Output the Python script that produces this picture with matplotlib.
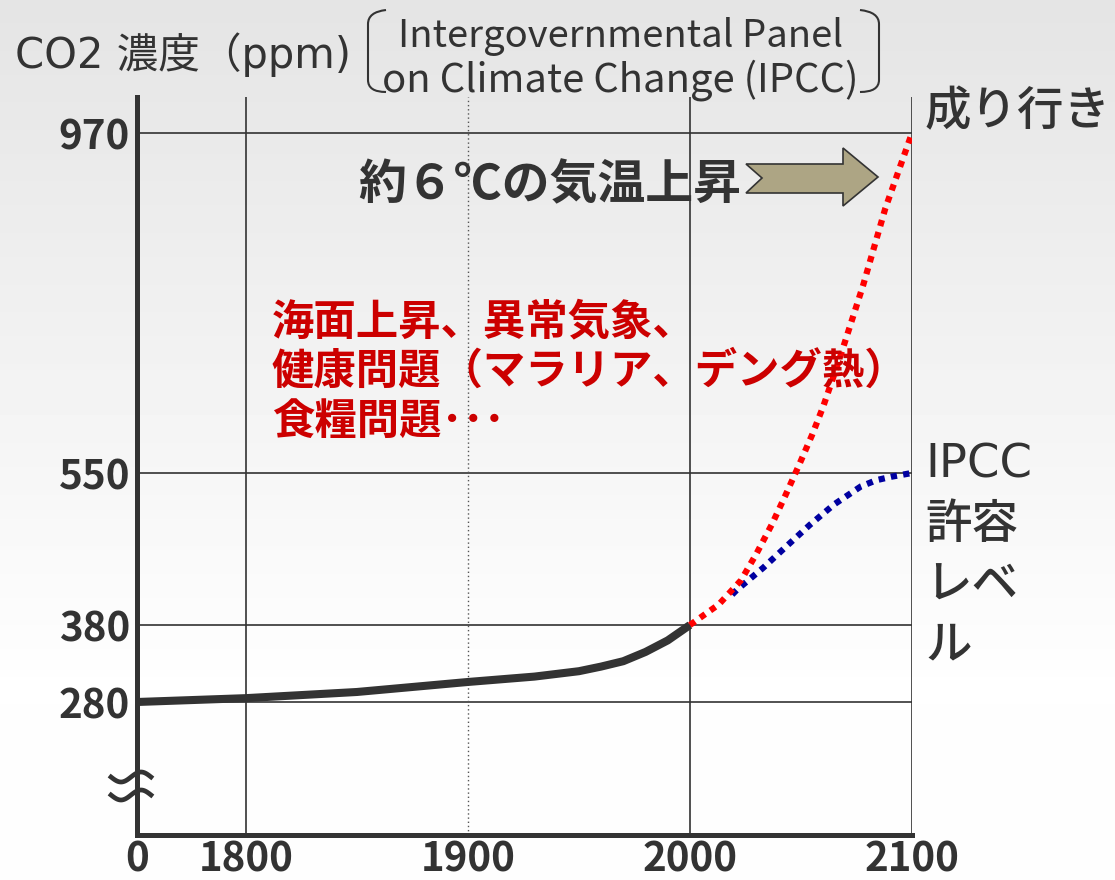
import numpy as np
import matplotlib
matplotlib.use('Agg')
from matplotlib import pyplot as plt
from matplotlib.patches import Polygon
from matplotlib.path import Path
from matplotlib.patches import PathPatch

plt.rcParams['font.family'] = ['Noto Sans CJK JP', 'DejaVu Sans']
WIDE = ['DejaVu Sans', 'Noto Sans CJK JP']

# --- data ---
hist_year = [1751, 1800, 1850, 1900, 1930, 1950, 1960, 1970, 1980, 1990, 2000]
hist_ppm = [280, 285, 293, 306, 313, 320, 326, 333, 345, 360, 380]

bau_year = [2000, 2013, 2023, 2030, 2037, 2043, 2049, 2055, 2060, 2067, 2078, 2088, 2100]
bau_ppm = [380, 403, 430, 460, 493, 525, 559, 597, 632, 688, 782, 877, 970]

ipcc_year = [2019, 2021, 2033, 2043, 2054, 2065, 2077, 2084, 2091, 2100]
ipcc_ppm = [414, 419, 444, 467, 492, 515, 535, 542, 546, 550]

y_ticks = [280, 380, 550, 970]
x_ticks = [1751, 1800, 1900, 2000, 2100]
x_labels = ['0', '1800', '1900', '2000', '2100']

red_lines = ['海面上昇、異常気象、', '健康問題（マラリア、デング熱）', '食糧問題･･･']
ipcc_label = ['IPCC', '許容', 'レベ', 'ル']

W, H = 1115, 880
DARK = '#333333'


def px(x, y):
    # pixel position (top-left origin) -> figure fraction
    return x / W, 1 - y / H


# broken, uneven y axis: ppm -> height on the page
yv = [107, 280, 380, 550, 970, 1014]
yh = [45, 178, 255, 407, 747, 783]


def fwd(v):
    return np.interp(v, yv, yh)


def inv(h):
    return np.interp(h, yh, yv)


fig = plt.figure(figsize=(W / 100, H / 100), dpi=100)

# background gradient
bg = fig.add_axes([0, 0, 1, 1], zorder=-10)
g = np.linspace(0, 1, 256)
shade = np.clip(0.895 + 0.105 * g / 0.8, 0, 1)
shade = np.where(g > 0.8, 0.995, shade)
bg.imshow(np.repeat(shade[:, None], 2, axis=1), cmap='gray', vmin=0, vmax=1,
          aspect='auto', extent=[0, 1, 0, 1])
bg.axis('off')

l, b = px(137, 835)
r, t = px(912, 97)
ax = fig.add_axes([l, b, r - l, t - b])
ax.set_facecolor('none')
ax.set_yscale('function', functions=(fwd, inv))
ax.set_xlim(1751, 2100)
ax.set_ylim(107, 1014)

for v in y_ticks:
    ax.axhline(v, color=DARK, lw=1.2, zorder=1)
for v in [1800, 2000, 2100]:
    ax.axvline(v, color=DARK, lw=1.2, zorder=1)
ax.axvline(1900, color='#555555', lw=1.0, ls=(0, (1, 2)), zorder=1)

ax.plot(hist_year, hist_ppm, color=DARK, lw=5.8, solid_capstyle='butt',
        solid_joinstyle='round', zorder=3)
ax.plot(ipcc_year, ipcc_ppm, color='#0000A0', lw=4.5, ls=(0, (1, 1)),
        dash_capstyle='butt', zorder=4)
ax.plot(bau_year, bau_ppm, color='#FF0000', lw=4.5, ls=(0, (1, 1)),
        dash_capstyle='butt', zorder=5)

ax.set_yticks(y_ticks)
ax.set_yticklabels([str(v) for v in y_ticks])
ax.set_xticks(x_ticks)
ax.set_xticklabels(x_labels)
ax.minorticks_off()
ax.tick_params(length=0, labelsize=29, labelcolor=DARK, pad=5)
ax.tick_params(axis='x', pad=3)
for lab in ax.get_xticklabels() + ax.get_yticklabels():
    lab.set_fontweight('bold')

for s in ['top', 'right']:
    ax.spines[s].set_visible(False)
for s in ['left', 'bottom']:
    ax.spines[s].set_linewidth(3.6)
    ax.spines[s].set_color(DARK)

# squiggle on the broken y axis
sx = np.linspace(111, 151, 40)
for y0 in [777, 795]:
    sy = y0 + 5 * np.sin((sx - 111) / 40 * 2 * np.pi)
    fx, fy = px(sx, sy)
    fig.add_artist(plt.Line2D(fx, fy, color=DARK, lw=3.4, transform=fig.transFigure))

# titles and labels
fig.text(*px(15, 55), 'CO2 濃度（ppm)', fontsize=30, color=DARK, va='center',
         ha='left', family=WIDE)
fig.text(*px(621, 37), 'Intergovernmental Panel', fontsize=27.5, color=DARK,
         va='center', ha='center')
fig.text(*px(620, 80), 'on Climate Change (IPCC)', fontsize=28.8, color=DARK,
         va='center', ha='center')

# brackets around the IPCC name
for xa, xb in [(386, 368), (860, 879)]:
    verts = [px(xa, 10), px(xb, 12), px(xb, 24), px(xb, 80), px(xb, 92), px(xa, 92)]
    codes = [Path.MOVETO, Path.CURVE3, Path.CURVE3, Path.LINETO, Path.CURVE3, Path.CURVE3]
    fig.add_artist(PathPatch(Path(verts, codes), fill=False, lw=1.5, ec=DARK,
                             transform=fig.transFigure))

fig.text(*px(925, 112), '成り行き', fontsize=33.5, color=DARK, va='center', ha='left',
         fontweight='medium')
fig.text(*px(358, 185), '約６℃の気温上昇', fontsize=34.5, color=DARK, va='center',
         ha='left', fontweight='bold')

arrow = [(746, 164), (843, 164), (843, 148), (878, 177), (843, 206), (843, 193),
         (746, 193), (762, 178)]
fig.add_artist(Polygon([px(*p) for p in arrow], closed=True, fc='#ADA584', ec=DARK,
                       lw=1.2, transform=fig.transFigure))

for i, line in enumerate(red_lines):
    fig.text(*px(272, 322 + 50 * i), line, fontsize=30.5, color='#CC0000',
             va='center', ha='left', fontweight='bold')

for i, line in enumerate(ipcc_label):
    fig.text(*px(925, 465 + 60 * i), line, fontsize=33.5, color=DARK,
             va='center', ha='left', fontweight='medium',
             family=WIDE if i == 0 else None)

fig.savefig('out.png', dpi=100)
